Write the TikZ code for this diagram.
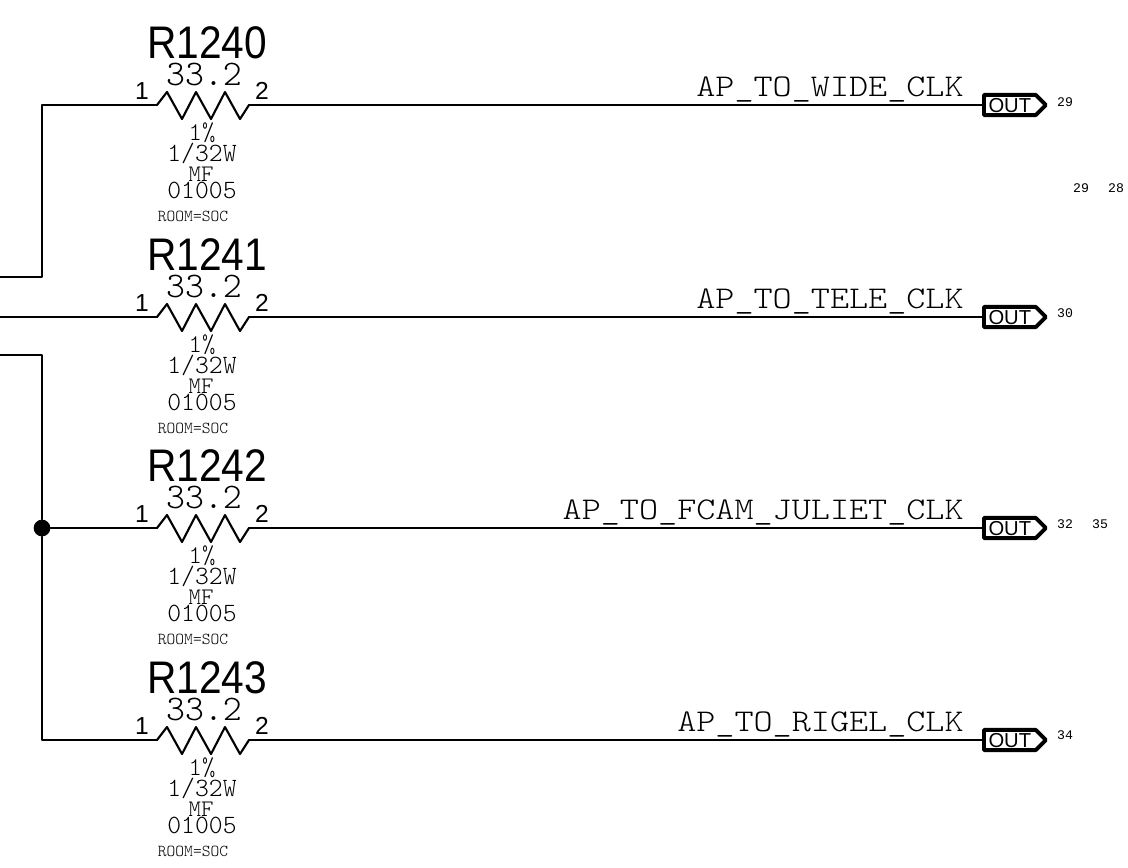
\documentclass[tikz,border=0pt]{standalone}
\usepackage{fontspec}
\setsansfont{Liberation Sans}
\newfontfamily\pagefont{Liberation Mono}
\newfontfamily\refdesfont[FakeStretch=0.89]{Liberation Sans}
\newfontfamily\netfont[FakeStretch=1.15]{Latin Modern Mono Light}
\usetikzlibrary{shapes.symbols}
\tikzset{
  wire/.style={line width=1.2pt,line cap=round,line join=round},
  refdes/.style={font=\refdesfont\fontsize{26}{26}\selectfont,anchor=base,inner sep=0pt},
  pinnum/.style={font=\sffamily\fontsize{14}{14}\selectfont,anchor=base,inner sep=0pt},
  attr/.style={font=\ttfamily\fontseries{l}\selectfont\fontsize{#1}{#1}\selectfont,anchor=base,inner sep=0pt},
  netname/.style={font=\netfont\fontsize{18}{18}\selectfont,anchor=base east,inner sep=0pt},
  offpage/.style={draw,line width=2.2pt,line join=round,signal,signal to=east,signal from=nowhere,signal pointer angle=90,
    font=\sffamily\fontsize{11.5}{11.5}\selectfont,inner sep=0pt,inner xsep=2.6pt,minimum height=11.5pt,text height=8pt,text depth=0pt,anchor=west},
  xref/.style={font=\pagefont\fontsize{7.5}{7.5}\selectfont,anchor=base,inner sep=0pt},
  junction/.style={circle,fill=black,inner sep=0pt,minimum size=9.5pt},
}
\begin{document}
\begin{tikzpicture}[x=0.02cm,y=-0.02cm]
  \useasboundingbox (0,0) rectangle (1128,867);
  \foreach \r/\w/\net in {1240/105/AP\_TO\_WIDE\_CLK,1241/317/AP\_TO\_TELE\_CLK,1242/528/AP\_TO\_FCAM\_JULIET\_CLK,1243/740/AP\_TO\_RIGEL\_CLK} {
    \begin{scope}[shift={(0,\w)}]
      \coordinate (a\r) at (157,0);
      \coordinate (b\r) at (249,0);
      \draw[wire] (a\r) -- (167,-13) -- (182,14) -- (196,-13) -- (211,14) -- (225,-13) -- (240,14) -- (b\r);
      \node[refdes] (R\r) at (207,-47) {R\r};
      \node[attr=20.5] (val\r) at (204,-20) {33.2};
      \node[pinnum] (pa\r) at (142,-6) {1};
      \node[pinnum] (pb\r) at (262,-6) {2};
      \node[attr=14.5] (tol\r) at (202,35) {1\%};
      \node[attr=15] (pow\r) at (202,56) {1/32W};
      \node[attr=13.5] (mat\r) at (201,76) {MF};
      \node[attr=15] (size\r) at (202,93) {01005};
      \node[attr=9.5] (room\r) at (193,116) {ROOM=SOC};
      \node[netname] (net\r) at (964,-9) {\net};
      \node[offpage] (out\r) at (982,0) {OUT};
      \draw[wire] (b\r) -- (out\r.west);
    \end{scope}
  }
  % left side
  \coordinate (t0) at (0,277);
  \coordinate (m0) at (0,317);
  \coordinate (u0) at (0,355);
  \node[junction] (dot) at (42,528) {};
  \draw[wire] (t0) -- (42,277) -- (42,105) -- (a1240);
  \draw[wire] (m0) -- (a1241);
  \draw[wire] (u0) -- (42,355) -- (dot) -- (42,740) -- (a1243);
  \draw[wire] (dot) -- (a1242);
  % page references
  \node[xref] (p29) at (1065,106) {29};
  \node[xref] (q29) at (1081,192) {29};
  \node[xref] (q28) at (1116,192) {28};
  \node[xref] (p30) at (1065,317) {30};
  \node[xref] (p32) at (1065,528) {32};
  \node[xref] (p35) at (1100,528) {35};
  \node[xref] (p34) at (1065,739) {34};
\end{tikzpicture}
\end{document}
